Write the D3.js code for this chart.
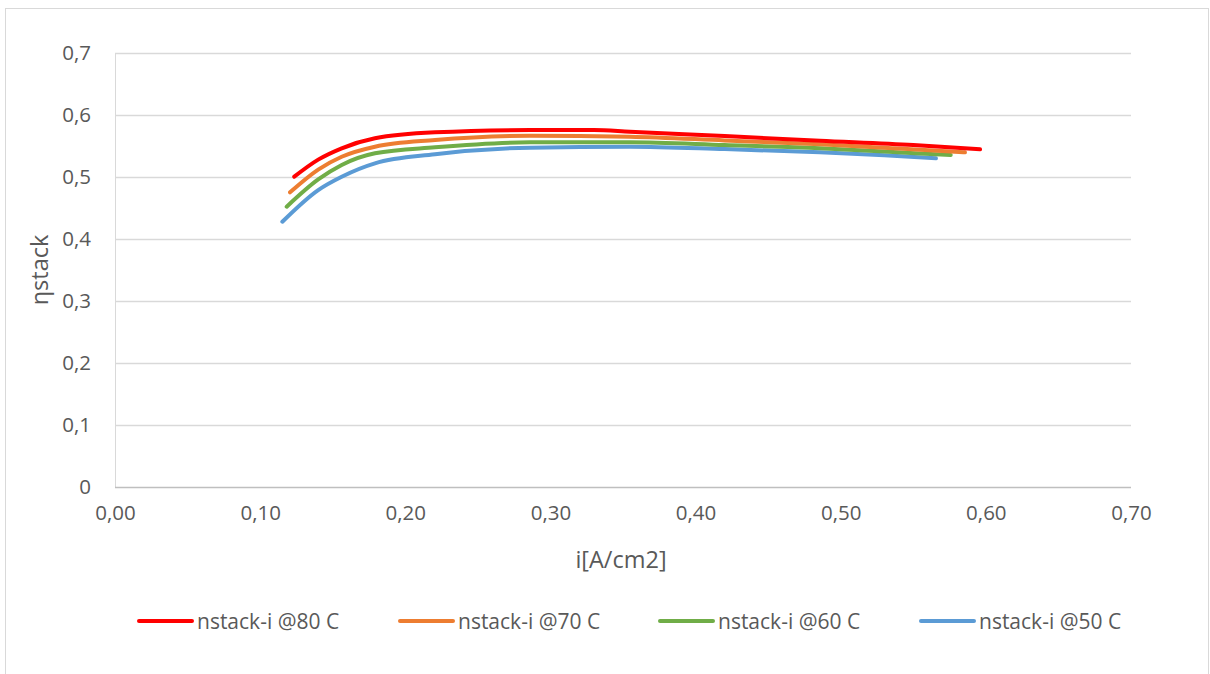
<!DOCTYPE html>
<html>
<head>
<meta charset="utf-8">
<script src="https://cdn.jsdelivr.net/npm/d3@7"></script>
<style>
  html, body { margin: 0; padding: 0; background: #fff; }
  svg { display: block; font-family: "Open Sans", "Liberation Sans", sans-serif; }
</style>
</head>
<body>
<svg id="chart" width="1210" height="674"></svg>
<script>
// Stack efficiency vs. current density at four operating temperatures
const seriesNames = ["nstack-i @80 C", "nstack-i @70 C", "nstack-i @60 C", "nstack-i @50 C"];
const seriesColors = ["#ff0000", "#ed7d31", "#70ad47", "#5b9bd5"];

const current80 = [0.1235, 0.140, 0.1562, 0.1791, 0.2205, 0.2859, 0.3300, 0.3548, 0.4200, 0.4857, 0.5500, 0.5960];
const eta80     = [0.5005, 0.5280, 0.5463, 0.5624, 0.5721, 0.5758, 0.5760, 0.5731, 0.5660, 0.5585, 0.5515, 0.5447];

const current70 = [0.1206, 0.140, 0.1562, 0.1791, 0.2205, 0.2859, 0.3548, 0.4200, 0.4857, 0.5400, 0.5856];
const eta70     = [0.4753, 0.5120, 0.5327, 0.5489, 0.5597, 0.5666, 0.5650, 0.5590, 0.5527, 0.5460, 0.5398];

const current60 = [0.1183, 0.140, 0.1562, 0.1791, 0.2205, 0.2859, 0.3548, 0.4200, 0.4857, 0.5300, 0.5758];
const eta60     = [0.4521, 0.4960, 0.5194, 0.5382, 0.5479, 0.5560, 0.5560, 0.5515, 0.5463, 0.5410, 0.5355];

const current50 = [0.1153, 0.140, 0.1562, 0.1791, 0.2205, 0.2859, 0.3548, 0.4200, 0.4857, 0.5300, 0.5656];
const eta50     = [0.4279, 0.4790, 0.5005, 0.5221, 0.5366, 0.5473, 0.5489, 0.5450, 0.5398, 0.5350, 0.5302];

const xTicks = [0, 0.1, 0.2, 0.3, 0.4, 0.5, 0.6, 0.7];
const yTicks = [0, 0.1, 0.2, 0.3, 0.4, 0.5, 0.6, 0.7];

const xTitle = "i[A/cm2]";
const yTitle = "ηstack";

const series = [
  { name: seriesNames[0], color: seriesColors[0], x: current80, y: eta80 },
  { name: seriesNames[1], color: seriesColors[1], x: current70, y: eta70 },
  { name: seriesNames[2], color: seriesColors[2], x: current60, y: eta60 },
  { name: seriesNames[3], color: seriesColors[3], x: current50, y: eta50 }
];

const svg = d3.select("#chart");
const W = 1210, H = 674;
const plot = { left: 115, right: 1131, top: 53, bottom: 487 };
const textColor = "#595959";
const gridColor = "#d9d9d9";

// chart area frame
svg.append("rect")
  .attr("x", 5.5).attr("y", 8.5)
  .attr("width", W - 7).attr("height", H)
  .attr("fill", "#fff").attr("stroke", gridColor).attr("stroke-width", 1);

const x = d3.scaleLinear().domain([0, 0.7]).range([plot.left, plot.right]);
const y = d3.scaleLinear().domain([0, 0.7]).range([plot.bottom, plot.top]);

const fmtX = d => d3.format(".2f")(d).replace(".", ",");
const fmtY = d => d === 0 ? "0" : d3.format(".1f")(d).replace(".", ",");

// horizontal gridlines + y tick labels
const yAxis = svg.append("g")
  .attr("transform", `translate(${plot.left},0)`)
  .call(d3.axisLeft(y).tickValues(yTicks).tickFormat(fmtY)
    .tickSizeInner(-(plot.right - plot.left)).tickSizeOuter(0).tickPadding(24));
yAxis.select(".domain").attr("stroke", gridColor).attr("stroke-width", 1);
yAxis.selectAll(".tick line")
  .attr("stroke", (d) => d === 0 ? "#bfbfbf" : gridColor)
  .attr("stroke-width", 1.3);
yAxis.selectAll(".tick text")
  .attr("fill", textColor).attr("font-size", 20.5)
  .attr("font-family", "'Open Sans', sans-serif");

// x tick labels
const xAxis = svg.append("g")
  .attr("transform", `translate(0,${plot.bottom})`)
  .call(d3.axisBottom(x).tickValues(xTicks).tickFormat(fmtX)
    .tickSize(0).tickPadding(18));
xAxis.select(".domain").remove();
xAxis.selectAll(".tick text")
  .attr("fill", textColor).attr("font-size", 20.5)
  .attr("font-family", "'Open Sans', sans-serif");

// axis titles
svg.append("text")
  .attr("x", (plot.left + plot.right) / 2 - 2).attr("y", 559)
  .attr("text-anchor", "middle").attr("dominant-baseline", "central")
  .attr("fill", textColor).attr("font-size", 23.5)
  .text(xTitle);

svg.append("text")
  .attr("transform", `translate(39,${(plot.top + plot.bottom) / 2}) rotate(-90)`)
  .attr("text-anchor", "middle").attr("dominant-baseline", "central")
  .attr("fill", textColor).attr("font-size", 23.5)
  .text(yTitle);

// series lines
const line = d3.line()
  .x(d => x(d[0])).y(d => y(d[1]))
  .curve(d3.curveMonotoneX);

svg.append("g").selectAll("path")
  .data(series.slice().reverse())
  .join("path")
  .attr("d", s => line(s.x.map((v, i) => [v, s.y[i]])))
  .attr("fill", "none")
  .attr("stroke", s => s.color)
  .attr("stroke-width", 4)
  .attr("stroke-linecap", "round")
  .attr("stroke-linejoin", "round");

// legend
const legendX = [139, 400, 660, 921];
const legendY = 621;
const legend = svg.append("g").selectAll("g")
  .data(series)
  .join("g")
  .attr("transform", (s, i) => `translate(${legendX[i]},${legendY})`);
legend.append("line")
  .attr("x1", 0).attr("x2", 53).attr("y1", 0).attr("y2", 0)
  .attr("stroke", s => s.color).attr("stroke-width", 4)
  .attr("stroke-linecap", "round");
legend.append("text")
  .attr("x", 58).attr("y", 0)
  .attr("dominant-baseline", "central")
  .attr("fill", textColor).attr("font-size", 21)
  .text(s => s.name);
</script>
</body>
</html>
